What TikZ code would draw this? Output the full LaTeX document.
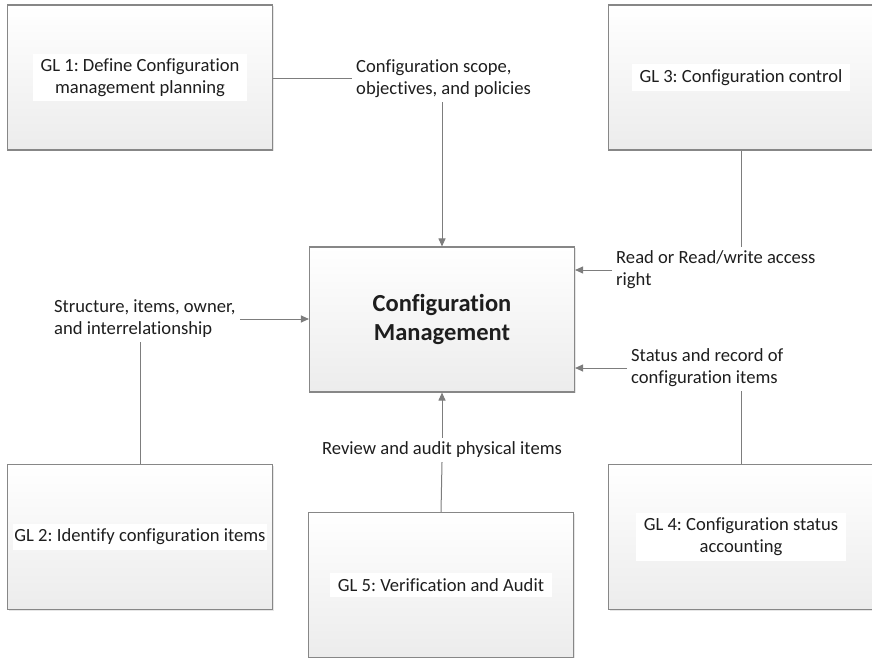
\documentclass[tikz,border=0pt]{standalone}
\usepackage{fontspec}
\setmainfont{Carlito}[Ligatures={NoCommon}]
\usetikzlibrary{arrows.meta,shadows}
\definecolor{linegray}{RGB}{125,125,125}
\definecolor{boxborder}{RGB}{135,135,135}
\definecolor{txt}{RGB}{30,30,30}
\tikzset{
  glbox/.style={draw=boxborder, line width=1.1pt, top color=white, bottom color={rgb,255:red,236;green,236;blue,236},
    minimum width=265pt, minimum height=145pt, inner sep=0pt,
    drop shadow={shadow xshift=1.2pt, shadow yshift=-1.2pt, opacity=0.2, fill=gray}},
  gltext/.style={fill=white, text=txt, font=\fontsize{18.6}{22}\selectfont, align=center, inner xsep=8pt, inner ysep=5pt},
  lbl/.style={text=txt, font=\fontsize{18.6}{22}\selectfont, align=left, inner sep=4pt},
  conn/.style={draw=linegray, line width=1pt},
  arr/.style={conn, -{Triangle[length=8pt,width=7pt]}},
}
\begin{document}
\frenchspacing
\begin{tikzpicture}[x=1pt,y=-1pt]
\useasboundingbox (0,0) rectangle (872,658);
% boxes
\node[glbox] (gl1) at (140,77.5) {};
\node[glbox] (gl3) at (741,77.5) {};
\node[glbox] (cm) at (442,319.5) {};
\node[glbox] (gl2) at (140,537) {};
\node[glbox] (gl5) at (441,585) {};
\node[glbox] (gl4) at (741,537) {};
% texts in boxes
\node[gltext] (t1) at (gl1) {GL 1: Define Configuration\\management planning};
\node[gltext] (t3) at (gl3) {GL 3: Configuration control};
\node[text=txt, font=\fontsize{24.5}{29}\selectfont\bfseries, align=center] (tcm) at (cm) {Configuration\\Management};
\node[gltext, inner xsep=1.5pt] (t2) at (gl2) {GL 2: Identify configuration items};
\node[gltext] (t5) at (gl5) {GL 5: Verification and Audit};
\node[gltext] (t4) at (gl4) {GL 4: Configuration status\\accounting};
% labels
\node[lbl, anchor=west] (l1) at (352,79) {Configuration scope,\\objectives, and policies};
\node[lbl, anchor=west] (l3) at (612,270) {Read or Read/write access\\right};
\node[lbl, anchor=west] (l4) at (627,368) {Status and record of\\configuration items};
\node[lbl, anchor=west] (l2) at (50,319) {Structure, items, owner,\\and interrelationship};
\node[lbl] (l5) at (442,450) {Review and audit physical items};
% connectors
\draw[conn] (gl1.east |- l1.west) -- (l1.west);
\draw[arr] (l1.south -| cm.north) -- (cm.north);
\draw[conn] (gl3.south) -- (gl3.south |- l3.north);
\draw[arr] (l3.west) -- (l3.west -| cm.east);
\draw[conn] (gl4.north) -- (gl4.north |- l4.south);
\draw[arr] (l4.west) -- (l4.west -| cm.east);
\draw[arr] (l2.east) -- (l2.east -| cm.west);
\draw[conn] (gl2.north) -- (gl2.north |- l2.south);
\draw[arr] (l5.north) -- (cm.south);
\draw[conn] (gl5.north) -- (l5.south);
\end{tikzpicture}
\end{document}
